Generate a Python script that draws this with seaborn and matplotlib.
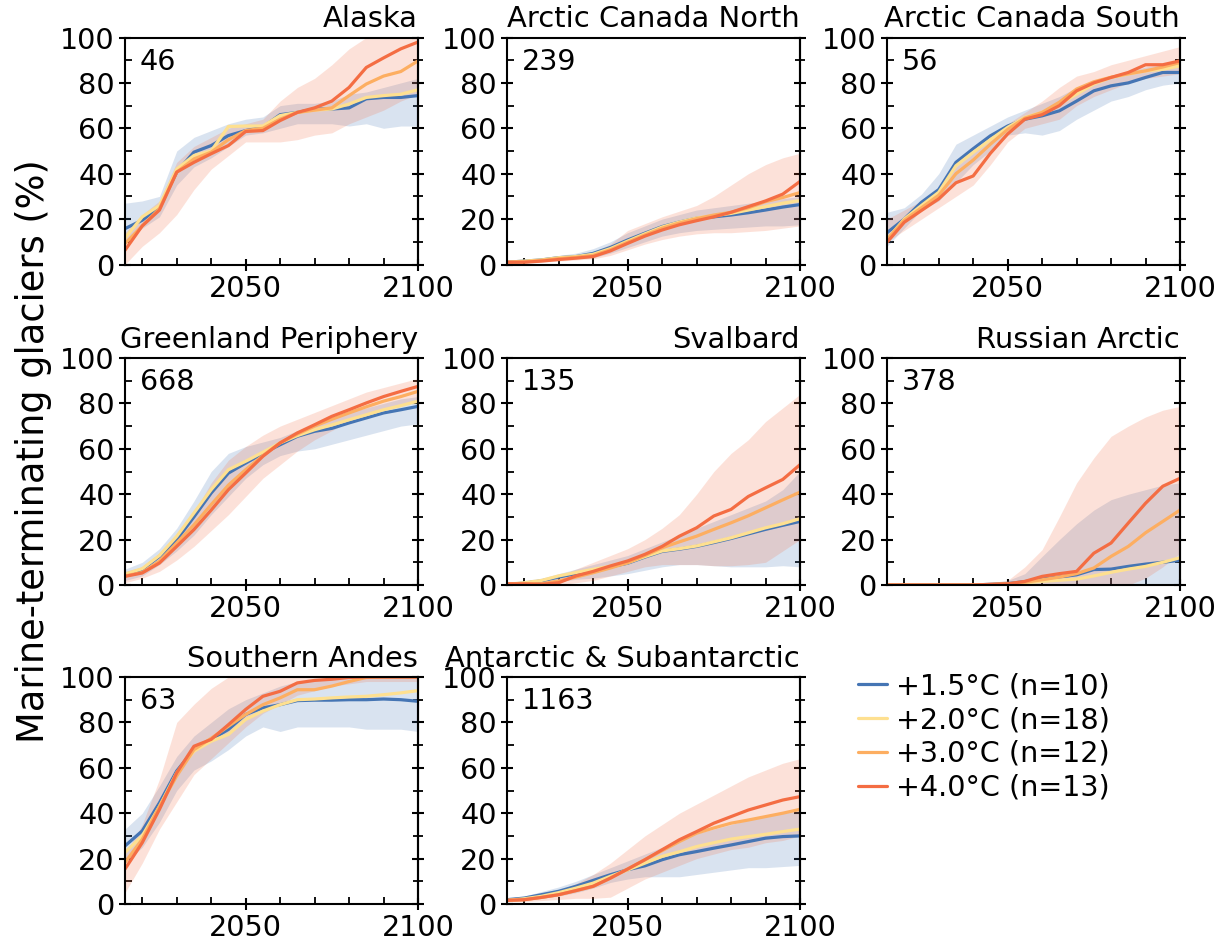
import numpy as np
import pandas as pd
import matplotlib
matplotlib.use("Agg")
import matplotlib.pyplot as plt
from matplotlib.lines import Line2D
from matplotlib.ticker import MultipleLocator, FixedLocator
import seaborn as sns

years = list(range(2015, 2101, 5))

scenarios = ["+1.5°C (n=10)", "+2.0°C (n=18)", "+3.0°C (n=12)", "+4.0°C (n=13)"]
colors = ["#4575b4", "#fee090", "#fdae61", "#f46d43"]

regions = ["Alaska", "Arctic Canada North", "Arctic Canada South",
           "Greenland Periphery", "Svalbard", "Russian Arctic",
           "Southern Andes", "Antarctic & Subantarctic"]
glacier_counts = [46, 239, 56, 668, 135, 378, 63, 1163]

# Alaska
alaska_15 = [15.8, 19.5, 25.3, 40.7, 49.5, 52.4, 56.8, 59, 60.5, 66, 67, 68.5, 68.5, 69, 73, 73.6, 73.6, 74.4]
alaska_20 = [11.7, 21, 26, 42, 48, 50, 60.8, 61, 61, 65.6, 67, 68, 68.5, 70.7, 73.6, 74.4, 75, 77]
alaska_30 = [9.2, 17, 24.6, 40.7, 46.5, 49.5, 55, 59, 60, 64, 67, 68, 69, 74.4, 79.5, 83, 85, 89.7]
alaska_40 = [6.3, 17, 24, 40.7, 45, 48.8, 52.4, 58.6, 59, 63.4, 67, 69, 72, 78, 86.8, 91, 95, 98]
alaska_15_lo = [10, 16, 21, 35, 43, 47, 52, 57, 58, 60, 62, 62, 62, 61, 62, 60, 61, 61]
alaska_15_hi = [27, 28, 30, 50, 56, 59, 62, 64, 65, 70, 71, 71, 72, 75, 76, 78, 80, 82]
alaska_40_lo = [0, 8, 14, 22, 33, 42, 48, 54, 54, 54, 55, 57, 58, 62, 65, 68, 72, 75]
alaska_40_hi = [14, 22, 28, 45, 52, 56, 60, 62, 64, 72, 78, 82, 88, 95, 100, 100, 100, 100]

# Arctic Canada North
acn_15 = [1, 1.5, 2, 3, 3.5, 4.9, 7.5, 10.8, 13.8, 16.7, 18.7, 20.4, 21, 21.8, 22.8, 24, 25.3, 26.4]
acn_20 = [1, 1.5, 2, 3, 3.5, 4.5, 7, 10.3, 13.5, 16.5, 18.7, 20.5, 21.5, 22.5, 24, 25.5, 27, 28.2]
acn_30 = [1, 1.2, 1.8, 2.6, 3.2, 4, 6.5, 9.8, 13, 16, 18.3, 20.2, 21.8, 23, 25, 27.7, 29.5, 31.7]
acn_40 = [1, 1, 1.5, 2.2, 2.8, 3.5, 6, 9.3, 12.5, 15.2, 17.5, 19.3, 21, 23, 25.5, 28, 31, 36.6]
acn_15_lo = [0.5, 1, 1.5, 2, 2.5, 3, 5, 7.5, 10, 12.5, 14, 15, 15.5, 16, 16.5, 17, 17, 17.5]
acn_15_hi = [1.5, 2, 3, 4, 5, 7, 10, 14, 17, 20, 22, 24, 25, 26, 27, 28, 29, 30]
acn_40_lo = [0.5, 0.5, 1, 1.5, 2, 2.5, 4, 6.5, 9, 11, 12.5, 13.5, 14, 14, 14.5, 15, 16, 17]
acn_40_hi = [1.5, 1.5, 2.5, 3, 4, 5.5, 9, 15, 18, 21, 23.5, 26, 30, 35, 40, 44, 47, 49]

# Arctic Canada South
acs_15 = [14, 20, 27.4, 33, 45, 51, 56.7, 61, 64, 65.5, 67.7, 72, 76.5, 78.7, 80, 82.4, 84.6, 84.6]
acs_20 = [11, 20, 26, 31.8, 43.5, 49.4, 55, 60.4, 64.8, 67, 70.7, 75, 79.5, 82.4, 83.9, 85.3, 86, 87.5]
acs_30 = [11, 19.5, 25, 30.5, 40, 46, 53, 59.5, 64.5, 67, 71.5, 77.3, 80.5, 82.5, 84, 85.3, 87, 89]
acs_40 = [9.8, 18.6, 23.8, 28.9, 36, 39, 49, 57.5, 64, 66, 70, 76.5, 80, 82.4, 84.6, 88, 88, 89.7]
acs_15_lo = [8, 16, 24, 28, 36, 44, 50, 57, 58, 57, 59, 64, 68, 72, 74, 77, 79, 80]
acs_15_hi = [23, 25, 31, 40, 53, 57, 61, 65, 68, 71, 74, 78, 81, 83, 85, 87, 88, 90]
acs_40_lo = [10, 15, 20, 25, 30, 35, 44, 54, 60, 62, 64, 70, 74, 77, 80, 82, 83, 84]
acs_40_hi = [20, 24, 28, 34, 43, 49, 56, 62, 67, 72, 78, 83, 85, 88, 90, 92, 94, 96]

# Greenland Periphery
grl_15 = [4.6, 6.8, 12.6, 20, 30, 40.5, 49.3, 53.7, 58, 61.8, 65.5, 67.7, 69, 71.4, 73.6, 75.8, 77.2, 78.7]
grl_20 = [4.8, 7.2, 13, 21.4, 31.7, 42, 50.8, 54.5, 58.5, 62.6, 65.8, 68.4, 70.5, 72.8, 75, 77.2, 79, 81]
grl_30 = [4, 5.5, 10.5, 18.5, 26.5, 35.4, 44, 50.8, 57, 62.6, 66.5, 70, 73, 75.8, 78.5, 81, 83, 85.3]
grl_40 = [3.8, 5.3, 9.7, 17, 24.4, 33, 42, 49.3, 56.7, 62.6, 67, 70.6, 74.3, 77.2, 80.2, 83, 85.3, 87.5]
grl_15_lo = [2, 4, 9, 15, 22, 31, 39, 47, 53, 57, 59, 60, 62, 64, 66, 68, 70, 71]
grl_15_hi = [7, 10, 16, 25, 37, 50, 58, 61, 63, 65, 68, 70, 73, 76, 78, 80, 82, 83]
grl_40_lo = [1, 3, 6, 11, 17, 24, 31, 39, 47, 53, 59, 64, 68, 72, 75, 77, 79, 82]
grl_40_hi = [6, 8, 14, 22, 32, 45, 55, 61, 66, 70, 73, 76, 79, 82, 85, 87, 89, 91]

# Svalbard
sva_15 = [0.3, 0.8, 1.8, 3.5, 5, 6.5, 8, 9.6, 12.3, 14.8, 15.8, 17, 18.7, 20.5, 22.5, 24.5, 26.3, 28]
sva_20 = [0.3, 1, 2, 4, 5.5, 6.9, 8.3, 9.8, 12.5, 15, 16, 17.2, 19, 20.8, 23, 25.2, 27, 29.2]
sva_30 = [0.5, 0.5, 0.5, 1.8, 3.5, 5.4, 7.5, 9.8, 13, 16.4, 19, 21.5, 24.5, 27.4, 30.5, 34, 37.5, 40.9]
sva_40 = [0.5, 0.5, 0.3, 1, 4, 6, 8.4, 10.6, 13.5, 17, 21.5, 25.2, 30.4, 33.3, 39, 42.8, 46.5, 53]
sva_15_lo = [0, 0, 0.5, 1.5, 2.5, 3, 4, 5, 6.5, 8, 9, 9, 8.5, 8, 8, 8, 8.5, 8]
sva_15_hi = [1, 2, 3, 5, 7, 9, 11, 13, 16, 19, 22, 25, 28, 31, 34, 37, 42, 50]
sva_40_lo = [0, 0, 0, 0, 1, 2, 4, 6, 8, 9, 9, 9, 8.5, 8.5, 9, 10, 15, 20]
sva_40_hi = [1, 1, 2, 4, 7, 10, 13, 16, 20, 25, 31, 40, 50, 58, 64, 72, 78, 84]

# Russian Arctic
rus_15 = [0, 0, 0, 0, 0, 0, 0.3, 0.6, 1.5, 2.6, 3.5, 4.5, 6.8, 7, 8.2, 9.2, 10, 10.9]
rus_20 = [0, 0, 0, 0, 0, 0, 0.2, 0.4, 0.9, 1.6, 2.1, 2.6, 4, 5.6, 7, 8.2, 10, 12]
rus_30 = [0, 0, 0, 0, 0, 0, 0.2, 0.5, 1.2, 2.3, 3.5, 5, 7.5, 12.6, 17, 23, 28, 33]
rus_40 = [0, 0, 0, 0, 0, 0, 0.3, 0.5, 1.6, 3.8, 5, 6, 14, 18.5, 27.3, 36, 43.5, 47]
rus_15_lo = [0] * 18
rus_15_hi = [0, 0, 0, 0, 0.2, 0.5, 1, 2, 5, 12.6, 20, 27, 33, 37.6, 40, 42, 44, 45]
rus_40_lo = [0, 0, 0, 0, 0, 0, 0, 0, 0, 0, 0, 0, 0, 0, 0, 3, 8, 14]
rus_40_hi = [0, 0, 0, 0, 0.2, 0.5, 1, 2, 8, 15.6, 30, 45, 56, 65.5, 70, 74, 77, 78.7]

# Southern Andes
sand_15 = [25.6, 32.2, 44.6, 58.6, 68, 72.5, 76.9, 83.5, 86.4, 87.8, 89.6, 89.8, 89.8, 90, 90, 90.3, 90, 89.3]
sand_20 = [22.7, 30, 43, 57.8, 67.3, 71.7, 74.7, 81.3, 85, 87.8, 90, 90.3, 90.8, 91.2, 91.5, 92.2, 93, 94]
sand_30 = [18.3, 28.5, 43, 56.4, 68, 73, 78.3, 83.5, 87.8, 90.8, 94.4, 94.4, 96, 98, 99.8, 100, 100, 100]
sand_40 = [15.4, 27, 41.7, 57.8, 69.5, 72.5, 79, 85.7, 91.5, 93.7, 97.4, 98.5, 99, 99.8, 100, 100, 100, 100]
sand_15_lo = [18, 25, 36, 50, 59, 63, 68, 74, 78, 76, 78, 78, 78, 78, 77, 77, 77, 76]
sand_15_hi = [33, 40, 52, 65, 74, 80, 86, 90, 93, 96, 98, 99, 100, 100, 100, 100, 100, 100]
sand_40_lo = [5, 18, 33, 45, 57, 64, 71, 78, 84, 88, 92, 94, 96, 97, 98, 98, 98, 98]
sand_40_hi = [22, 35, 55, 80, 88, 95, 100, 100, 100, 100, 100, 100, 100, 100, 100, 100, 100, 100]

# Antarctic & Subantarctic
ant_15 = [1.9, 2.6, 4.1, 5.6, 7.8, 10.4, 12.9, 15.1, 16.8, 19.5, 21.7, 23.1, 24.6, 26, 27.5, 29, 29.7, 30]
ant_20 = [1.6, 2.3, 3.4, 5, 7, 9.2, 12.2, 15, 18, 21, 23, 25.3, 27, 28.6, 29.7, 30.7, 31.9, 33]
ant_30 = [1.6, 1.9, 2.9, 4.1, 5.9, 7.8, 11.4, 15.4, 19.5, 23.5, 27.5, 31.2, 33.5, 35.6, 37, 38.5, 40, 41.7]
ant_40 = [1.6, 1.9, 2.9, 4.1, 5.9, 7.8, 11.4, 15.4, 19.5, 23.9, 28.3, 31.9, 35.6, 38.5, 41.4, 43.6, 45.8, 47.3]
ant_15_lo = [1, 1.5, 2.5, 3.5, 5, 7, 9.5, 11, 12, 12, 12, 13, 14, 15, 16, 16, 16.5, 17]
ant_15_hi = [2.5, 3.5, 5.5, 7.5, 10, 13, 16, 19, 22, 25, 28, 31, 33, 35, 37, 39, 40, 41]
ant_40_lo = [1, 1, 1.5, 2, 2.5, 2.5, 3, 7, 11, 14, 17, 20, 22, 24, 25, 27, 28, 30]
ant_40_hi = [2, 2.5, 4, 6, 9, 13, 18, 24, 30, 35, 40, 44, 48, 52, 56, 59, 62, 64]

medians = [
    [alaska_15, alaska_20, alaska_30, alaska_40],
    [acn_15, acn_20, acn_30, acn_40],
    [acs_15, acs_20, acs_30, acs_40],
    [grl_15, grl_20, grl_30, grl_40],
    [sva_15, sva_20, sva_30, sva_40],
    [rus_15, rus_20, rus_30, rus_40],
    [sand_15, sand_20, sand_30, sand_40],
    [ant_15, ant_20, ant_30, ant_40],
]
bands = [
    [(alaska_15_lo, alaska_15_hi), (alaska_40_lo, alaska_40_hi)],
    [(acn_15_lo, acn_15_hi), (acn_40_lo, acn_40_hi)],
    [(acs_15_lo, acs_15_hi), (acs_40_lo, acs_40_hi)],
    [(grl_15_lo, grl_15_hi), (grl_40_lo, grl_40_hi)],
    [(sva_15_lo, sva_15_hi), (sva_40_lo, sva_40_hi)],
    [(rus_15_lo, rus_15_hi), (rus_40_lo, rus_40_hi)],
    [(sand_15_lo, sand_15_hi), (sand_40_lo, sand_40_hi)],
    [(ant_15_lo, ant_15_hi), (ant_40_lo, ant_40_hi)],
]

sns.set_style("ticks")
plt.rcParams.update({
    "font.family": ["DejaVu Sans"],
    "axes.linewidth": 1.5,
    "axes.edgecolor": "black",
    "text.color": "black",
    "axes.labelcolor": "black",
    "xtick.color": "black",
    "ytick.color": "black",
})

FS = 20.6
fig = plt.figure(figsize=(12.28, 9.49), dpi=100)

col_left = [125 / 1228, 507 / 1228, 887 / 1228]
row_bottom = [1 - 264.5 / 949, 1 - 585 / 949, 1 - 904 / 949]
ax_w, ax_h = 293 / 1228, 227 / 949

for i, region in enumerate(regions):
    r, c = divmod(i, 3)
    ax = fig.add_axes([col_left[c], row_bottom[r], ax_w, ax_h])

    # uncertainty ranges for the lowest and highest warming levels
    for (lo, hi), col in zip(bands[i], [colors[0], colors[3]]):
        ax.fill_between(years, lo, hi, color=col, alpha=0.2, lw=0)

    df = pd.DataFrame({
        "year": np.tile(years, 4),
        "pct": np.concatenate(medians[i]),
        "scenario": np.repeat(scenarios, len(years)),
    })
    sns.lineplot(data=df, x="year", y="pct", hue="scenario",
                 palette=dict(zip(scenarios, colors)), estimator=None,
                 linewidth=2.3, legend=False, ax=ax)

    ax.set_xlim(2015, 2100)
    ax.set_ylim(0, 100)
    ax.set_xlabel("")
    ax.set_ylabel("")
    ax.xaxis.set_major_locator(FixedLocator([2050, 2100]))
    ax.xaxis.set_minor_locator(FixedLocator(list(range(2020, 2100, 10))))
    ax.yaxis.set_major_locator(MultipleLocator(20))
    ax.yaxis.set_minor_locator(MultipleLocator(10))
    ax.tick_params(which="major", direction="inout", length=9, width=1.5,
                   labelsize=FS, pad=3)
    ax.tick_params(which="minor", direction="in", length=5, width=1.3)

    sec = ax.secondary_yaxis("right")
    sec.yaxis.set_major_locator(MultipleLocator(20))
    sec.yaxis.set_minor_locator(MultipleLocator(10))
    sec.tick_params(which="major", direction="inout", length=9, width=1.5,
                    labelright=False)
    sec.tick_params(which="minor", direction="inout", length=7, width=1.3)
    sec.spines["right"].set_linewidth(1.5)
    sec.spines["right"].set_color("black")

    ax.text(1.0, 1.045, region, transform=ax.transAxes,
            ha="right", va="baseline", fontsize=20.9)
    ax.text(0.05, 0.955, str(glacier_counts[i]), transform=ax.transAxes,
            ha="left", va="top", fontsize=FS)

fig.text(0.027, 0.525, "Marine-terminating glaciers (%)", rotation=90,
         ha="center", va="center", fontsize=26.5)

handles = [Line2D([0], [0], color=c, lw=2.3) for c in colors]
fig.legend(handles, scenarios, loc="upper left",
           bbox_to_anchor=(847 / 1228, 1 - 661 / 949), frameon=False,
           fontsize=FS, handlelength=1.0, handletextpad=0.3,
           labelspacing=0.2, borderaxespad=0)

fig.savefig("out.png", dpi=100)
